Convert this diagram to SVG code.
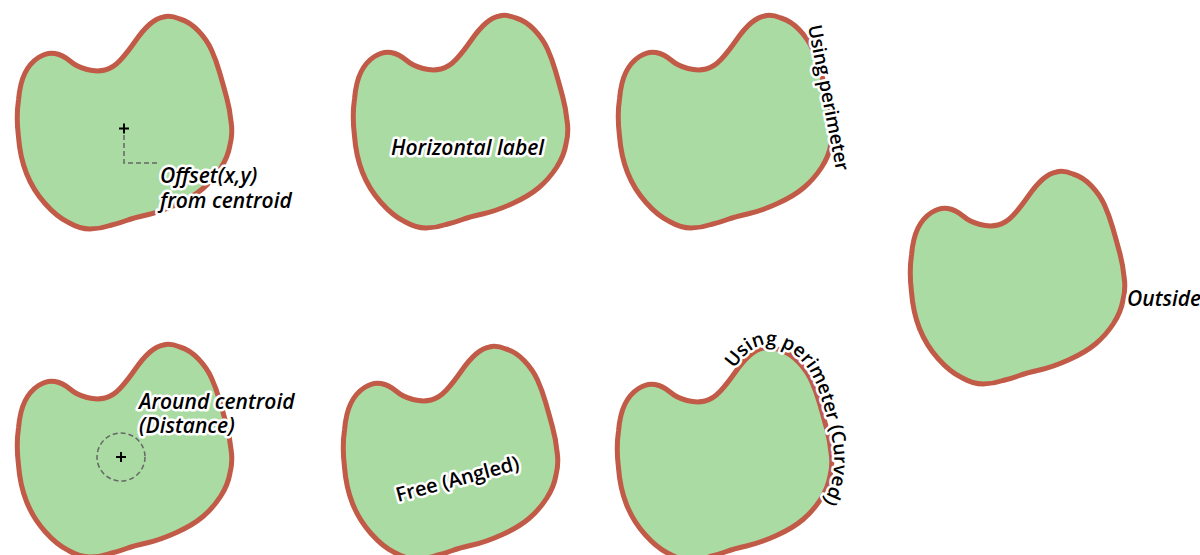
<svg xmlns="http://www.w3.org/2000/svg" xmlns:xlink="http://www.w3.org/1999/xlink" width="1200" height="555" viewBox="0 0 1200 555">
<style>
.blob{fill:#aadba3;stroke:#c15a46;stroke-width:5;stroke-linejoin:round}
.lbl{font-family:"Open Sans","Noto Sans",sans-serif;font-size:20px;font-weight:600;fill:#000;stroke:#fff;stroke-width:5;stroke-linejoin:round;paint-order:stroke}
.it{font-style:italic;font-size:21px}
.guide{fill:none;stroke:#666;stroke-width:1.5;stroke-dasharray:5 3}
.cross{stroke:#000;stroke-width:2}
</style>
<defs>
<path id="shape" d="M105,70 Q113,68 120,60.5 Q127,53 135,41.5 Q143,30 150,24 Q157,18 163.5,17 Q170,15 180,19 Q190,22 198.5,31 Q207,40 211.5,50 Q216,60 219.5,72 Q223,84 226.5,97 Q230,110 231,121.5 Q233,133 230,145 Q228,157 220.5,168.5 Q213,180 203,188.5 Q193,197 176.5,204.5 Q160,212 146.5,215 Q133,218 126.5,220.5 Q120,223 110,225.5 Q100,229 90,229 Q80,229 68.5,222.5 Q57,217 45,203.5 Q33,190 26.5,173.5 Q20,157 18.5,137 Q16,117 18.5,100 Q20,83 25,73 Q30,63 38.5,57.5 Q47,52 55,53.5 Q63,55 70,61 Q77,67 87,69.5 Q97,72 105,70 Z"/>
<path id="curve" d="M118,58.3 Q124.6,51.1 132.6,39.5 Q140.7,28 148.2,21.6 Q155.6,15.3 163,14.2 Q170.4,13 181,16.3 Q191.6,19.5 200.6,28.9 Q209.5,38.3 214.2,48.7 Q218.8,59 222.4,71.1 Q225.9,83.2 229.4,96.4 Q232.9,109.5 234,121.3 Q235,133.1 232.9,145.6 Q230.8,158.1 223,170 Q215.3,182 205,190"/>
</defs>

<g id="offset-node">
<use href="#shape" class="blob"/>
<path class="guide" d="M124,135 V163 H160"/>
<path class="cross" d="M119,128.5 H129 M124,123.5 V133.5"/>
<text class="lbl it" x="160" y="183">Offset(x,y)</text>
<text class="lbl it" x="160" y="208">from centroid</text>
</g>

<g id="horizontal-node" transform="translate(336,-1)">
<use href="#shape" class="blob"/>
</g>
<text class="lbl it" x="391" y="155">Horizontal label</text>

<g id="perimeter-node" transform="translate(601,-1)">
<use href="#shape" class="blob"/>
</g>
<g id="perimeter-label" transform="translate(814,25) rotate(79)">
<text class="lbl" x="0" y="6" style="font-size:19px">Using perimeter</text>
</g>

<g id="outside-node" transform="translate(893,155)">
<use href="#shape" class="blob"/>
</g>
<text class="lbl it" x="1127" y="306">Outside</text>

<g id="around-node" transform="translate(0,328)">
<use href="#shape" class="blob"/>
</g>
<circle class="guide" cx="121" cy="457" r="24"/>
<path class="cross" d="M116,457 H126 M121,452 V462"/>
<text class="lbl it" x="139" y="409">Around centroid</text>
<text class="lbl it" x="139" y="433">(Distance)</text>

<g id="free-node" transform="translate(326,330)">
<use href="#shape" class="blob"/>
</g>
<text class="lbl" transform="translate(398,502) rotate(-15)">Free (Angled)</text>

<g id="curved-node" transform="translate(600,331)">
<use href="#shape" class="blob"/>
<text class="lbl" style="font-size:19px"><textPath href="#curve" startOffset="26">Using perimeter (Curved)</textPath></text>
</g>
</svg>
